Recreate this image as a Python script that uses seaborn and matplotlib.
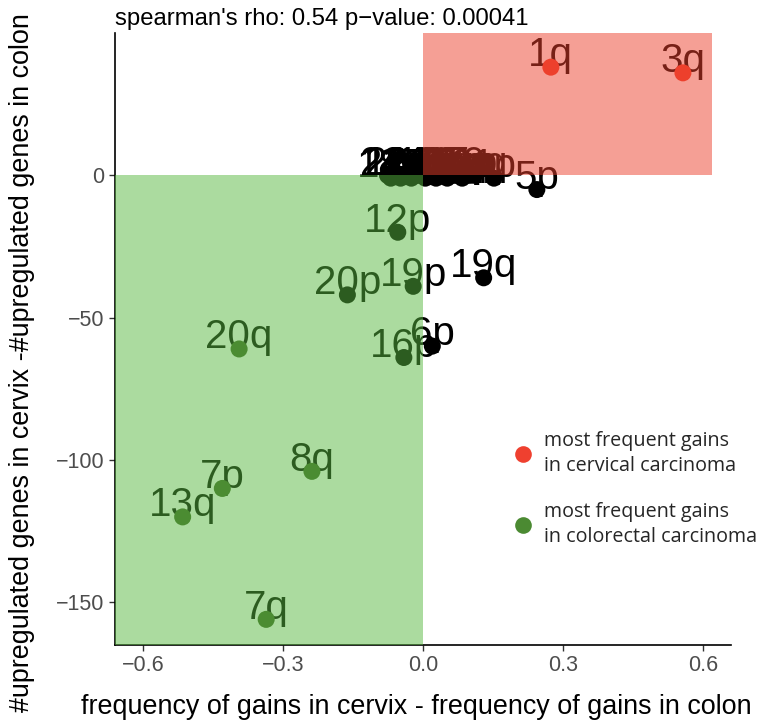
import numpy as np
import pandas as pd
import seaborn as sns
import matplotlib.pyplot as plt
from matplotlib.patches import Rectangle
from matplotlib.lines import Line2D

# Chromosome arms: difference in gain frequency (cervix - colon) and
# difference in number of upregulated genes (cervix - colon)
arms = ["1q", "3q", "5p", "12p", "19q", "19p", "20p", "20q", "6p", "16p",
        "8q", "7p", "13q", "7q",
        "2q", "18p", "22q", "18q", "4p", "4q", "9p", "15q", "14q", "21q",
        "2p", "11q", "9q", "17p", "3p", "8p", "16q", "6q", "17q", "12q",
        "10p", "11p", "5q", "10q", "1p"]
freq_diff = [0.274, 0.557, 0.244, -0.054, 0.130, -0.021, -0.162, -0.394, 0.020, -0.041,
             -0.238, -0.430, -0.515, -0.336,
             -0.076, -0.069, -0.062, -0.055, -0.048, -0.040, -0.032, -0.025, -0.016, -0.008,
             0.005, 0.012, 0.020, 0.028, 0.036, 0.044, 0.052, 0.060, 0.068, 0.076,
             0.084, 0.092, 0.100, 0.110, 0.152]
gene_diff = [38, 36, -5, -20, -36, -39, -42, -61, -60, -64,
             -104, -110, -120, -156,
             0, -1, 0, 0, -1, 0, 0, -1, 0, 0,
             -1, 0, 0, -1, 0, 0, -1, 0, 0, 0,
             -1, 0, 0, 0, -1]
group = ["cervical", "cervical", "other", "other", "other", "other", "other", "colorectal", "other", "other",
         "colorectal", "colorectal", "colorectal", "colorectal"] + ["other"] * 25

legend_labels = ["most frequent gains\nin cervical carcinoma",
                 "most frequent gains\nin colorectal carcinoma"]
title_text = "spearman's rho: 0.54 p\u2212value: 0.00041"
x_ticks = [-0.6, -0.3, 0.0, 0.3, 0.6]
y_ticks = [-150, -100, -50, 0]

df = pd.DataFrame({"arm": arms, "freq": freq_diff, "genes": gene_diff, "group": group})

sns.set_theme(style="ticks")
plt.rcParams["font.family"] = ["Liberation Sans", "DejaVu Sans"]

point_colors = {"cervical": "#ef3f2b", "colorectal": "#3d5f23", "other": "#000000"}
XLIM = (-0.66, 0.66)
YLIM = (-165, 50)

fig = plt.figure(figsize=(7.64, 7.27), dpi=100)
ax = fig.add_axes([0.1505, 0.1128, 0.8063, 0.8418])

# labels sit under the points, the shaded quadrants cover both
for a, x, y in zip(df["arm"], df["freq"], df["genes"]):
    ax.annotate(a, (x, y), xytext=(0, 0.5), textcoords="offset points",
                ha="center", va="baseline", fontsize=29, color="black", zorder=3)

sns.scatterplot(data=df, x="freq", y="genes", hue="group", palette=point_colors,
                s=150, linewidth=0, legend=False, ax=ax, zorder=4)

ax.set_xlim(*XLIM)
ax.set_ylim(*YLIM)

# quadrant overlays
ax.add_patch(Rectangle((XLIM[0], YLIM[0]), 0 - XLIM[0], 0 - YLIM[0],
                       facecolor="#59b941", alpha=0.5, lw=0, zorder=5))
ax.add_patch(Rectangle((0, 0), 0.62, YLIM[1], facecolor="#ed412d",
                       alpha=0.5, lw=0, zorder=5))

ax.set_xticks(x_ticks)
ax.set_xticklabels([f"{t:.1f}".replace("-", "\u2212") for t in x_ticks])
ax.set_yticks(y_ticks)
ax.set_yticklabels([str(t).replace("-", "\u2212") for t in y_ticks])
ax.tick_params(axis="both", direction="out", length=4.5, width=1, color="#333333",
               labelsize=15.5, labelcolor="#4d4d4d", pad=3)

for s in ["top", "right"]:
    ax.spines[s].set_visible(False)
for s in ["left", "bottom"]:
    ax.spines[s].set_color("black")
    ax.spines[s].set_linewidth(1.2)

ax.set_title(title_text, loc="left", fontsize=17.2, pad=6, color="black")

ax.set_xlabel("frequency of gains in cervix - frequency of gains in colon",
              fontsize=19.4, color="black", va="center")
ax.xaxis.set_label_coords(0.489, -0.101)
ax.set_ylabel("#upregulated genes in cervix -#upregulated genes in colon",
              fontsize=19.4, color="black", va="center")
ax.yaxis.set_label_coords(-0.151, 0.461)

handles = [Line2D([], [], marker="o", linestyle="none", markersize=12,
                  markerfacecolor=c, markeredgewidth=0)
           for c in ["#ef402f", "#4b8a32"]]
leg = ax.legend(handles, legend_labels, loc="upper left",
                bbox_to_anchor=(513 / 764, 1 - 431 / 727), bbox_transform=fig.transFigure,
                frameon=False, borderpad=0, borderaxespad=0, handlelength=1.0,
                handletextpad=0.55, labelspacing=1.35,
                prop={"family": "Open Sans", "size": 14.2})
for t in leg.get_texts():
    t.set_linespacing(1.3)

fig.savefig("out.png", dpi=100)
